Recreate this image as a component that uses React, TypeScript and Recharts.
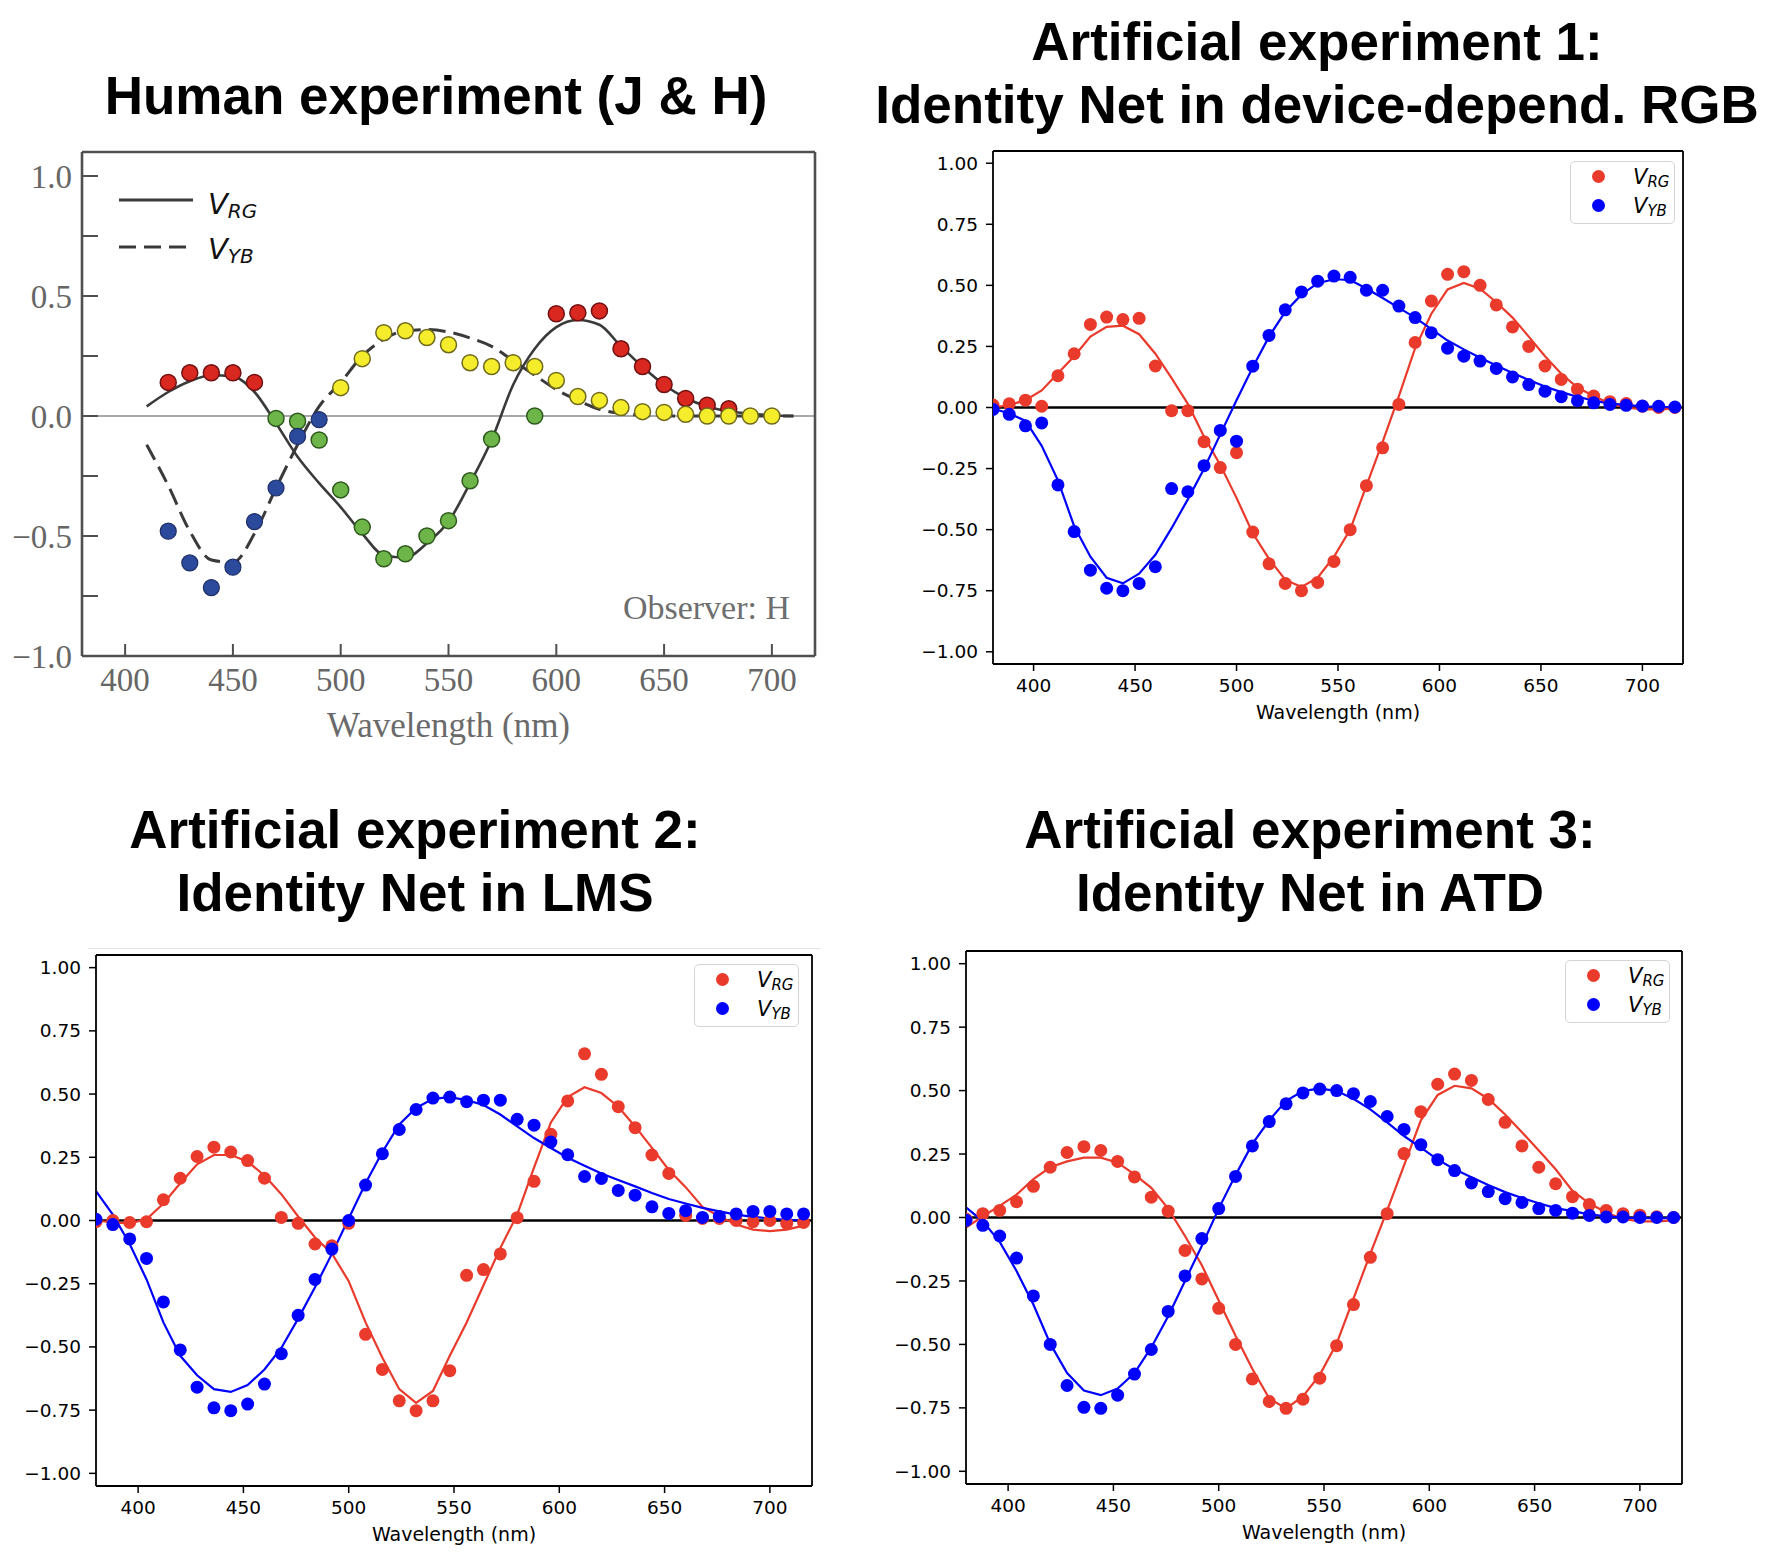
import React from 'react'
import { ComposedChart, Line, Scatter, XAxis, YAxis, ReferenceLine } from 'recharts'

// ---- human experiment (J & H), observer H ----
const hRedWl = [420, 430, 440, 450, 460, 600, 610, 620, 630, 640, 650, 660, 670, 680]
const hRedV = [0.14, 0.18, 0.18, 0.18, 0.14, 0.426, 0.43, 0.438, 0.28, 0.206, 0.131, 0.073, 0.045, 0.03]
const hYellowWl = [500, 510, 520, 530, 540, 550, 560, 570, 580, 590, 600, 610, 620, 630, 640, 650, 660, 670, 680, 690, 700]
const hYellowV = [0.118, 0.239, 0.347, 0.355, 0.327, 0.297, 0.222, 0.206, 0.222, 0.206, 0.148, 0.081, 0.065, 0.035, 0.018, 0.015, 0.007, 0.0, 0.0, 0.0, 0.0]
const hGreenWl = [470, 480, 490, 500, 510, 520, 530, 540, 550, 560, 570, 590]
const hGreenV = [-0.01, -0.022, -0.1, -0.308, -0.463, -0.595, -0.574, -0.5, -0.436, -0.27, -0.096, 0.0]
const hBlueWl = [420, 430, 440, 450, 460, 470, 480, 490]
const hBlueV = [-0.48, -0.612, -0.715, -0.63, -0.44, -0.3, -0.085, -0.015]
const hCurveWl = [410, 420, 430, 440, 450, 460, 470, 480, 490, 500, 510, 520, 530, 540, 550, 560, 570, 580, 590, 600, 610, 620, 630, 640, 650, 660, 670, 680, 690, 700, 710]
const hRgCurve = [0.04, 0.1, 0.145, 0.17, 0.165, 0.1, -0.03, -0.17, -0.28, -0.38, -0.49, -0.58, -0.59, -0.53, -0.44, -0.28, -0.1, 0.13, 0.28, 0.37, 0.4, 0.38, 0.29, 0.205, 0.13, 0.075, 0.04, 0.02, 0.01, 0.003, 0.0]
const hYbCurve = [-0.12, -0.29, -0.48, -0.6, -0.61, -0.49, -0.3, -0.12, 0.04, 0.14, 0.25, 0.32, 0.355, 0.36, 0.35, 0.325, 0.29, 0.23, 0.17, 0.11, 0.065, 0.028, 0.01, 0.003, 0.0, 0.0, 0.0, 0.0, 0.0, 0.0, 0.0]

// ---- artificial experiments: shared wavelengths ----
const WL = [380, 388, 396, 404, 412, 420, 428, 436, 444, 452, 460, 468, 476, 484, 492, 500, 508, 516, 524, 532, 540, 548, 556, 564, 572, 580, 588, 596, 604, 612, 620, 628, 636, 644, 652, 660, 668, 676, 684, 692, 700, 708, 716]

// experiment 1: device-dependent RGB
const e1RgPts = [0.01, 0.015, 0.03, 0.005, 0.13, 0.22, 0.34, 0.37, 0.36, 0.365, 0.17, -0.013, -0.013, -0.14, -0.246, -0.185, -0.51, -0.64, -0.72, -0.75, -0.716, -0.63, -0.5, -0.32, -0.165, 0.0125, 0.266, 0.436, 0.545, 0.556, 0.5, 0.42, 0.33, 0.25, 0.17, 0.115, 0.075, 0.047, 0.024, 0.016, 0.005, 0.0, 0.0]
const e1YbPts = [-0.008, -0.028, -0.075, -0.063, -0.317, -0.508, -0.666, -0.74, -0.75, -0.72, -0.652, -0.332, -0.345, -0.238, -0.094, -0.138, 0.169, 0.295, 0.4, 0.473, 0.517, 0.538, 0.533, 0.48, 0.48, 0.415, 0.368, 0.306, 0.243, 0.21, 0.19, 0.16, 0.125, 0.094, 0.067, 0.044, 0.028, 0.019, 0.0125, 0.009, 0.006, 0.005, 0.002]
const e1RgFit = [0.0, 0.01, 0.03, 0.07, 0.14, 0.21, 0.29, 0.33, 0.335, 0.3, 0.22, 0.12, 0.015, -0.12, -0.235, -0.37, -0.515, -0.62, -0.705, -0.735, -0.697, -0.611, -0.5, -0.32, -0.141, 0.047, 0.243, 0.384, 0.483, 0.51, 0.486, 0.431, 0.368, 0.29, 0.21, 0.138, 0.082, 0.047, 0.016, 0.0, -0.008, -0.008, -0.005]
const e1YbFit = [-0.005, -0.024, -0.055, -0.157, -0.298, -0.486, -0.611, -0.697, -0.72, -0.68, -0.603, -0.494, -0.376, -0.251, -0.11, 0.03, 0.165, 0.29, 0.392, 0.462, 0.509, 0.525, 0.522, 0.487, 0.448, 0.408, 0.368, 0.321, 0.274, 0.238, 0.204, 0.172, 0.141, 0.113, 0.086, 0.063, 0.044, 0.028, 0.016, 0.011, 0.005, 0.003, 0.0]

// experiment 2: LMS
const e2RgPts = [-0.005, 0.0, -0.008, -0.005, 0.082, 0.167, 0.253, 0.29, 0.271, 0.237, 0.167, 0.012, -0.011, -0.093, -0.1, -0.011, -0.45, -0.589, -0.713, -0.752, -0.713, -0.594, -0.217, -0.194, -0.132, 0.011, 0.155, 0.341, 0.473, 0.659, 0.578, 0.45, 0.367, 0.259, 0.186, 0.02, 0.008, 0.008, 0.0, -0.005, 0.0, -0.011, -0.008]
const e2YbPts = [0.005, -0.016, -0.073, -0.15, -0.322, -0.512, -0.659, -0.741, -0.752, -0.726, -0.647, -0.527, -0.375, -0.233, -0.113, 0.0, 0.14, 0.264, 0.36, 0.439, 0.484, 0.488, 0.47, 0.476, 0.476, 0.4, 0.377, 0.31, 0.26, 0.174, 0.166, 0.119, 0.1, 0.054, 0.028, 0.039, 0.012, 0.016, 0.026, 0.036, 0.036, 0.026, 0.026]
const e2RgFit = [0.0, -0.008, -0.011, 0.005, 0.067, 0.147, 0.222, 0.259, 0.259, 0.233, 0.178, 0.104, 0.016, -0.067, -0.13, -0.24, -0.403, -0.543, -0.667, -0.721, -0.674, -0.535, -0.403, -0.256, -0.109, 0.023, 0.209, 0.388, 0.488, 0.527, 0.504, 0.45, 0.372, 0.287, 0.2, 0.132, 0.054, 0.016, -0.016, -0.036, -0.042, -0.036, -0.02]
const e2YbFit = [0.116, 0.023, -0.093, -0.233, -0.403, -0.535, -0.612, -0.667, -0.678, -0.651, -0.589, -0.504, -0.388, -0.264, -0.132, 0.008, 0.147, 0.271, 0.38, 0.445, 0.481, 0.488, 0.476, 0.457, 0.419, 0.372, 0.326, 0.287, 0.248, 0.217, 0.186, 0.16, 0.135, 0.109, 0.085, 0.067, 0.05, 0.036, 0.023, 0.014, 0.008, 0.003, 0.0]

// experiment 3: ATD
const e3RgPts = [-0.006, 0.015, 0.028, 0.062, 0.123, 0.198, 0.256, 0.279, 0.264, 0.221, 0.16, 0.08, 0.025, -0.13, -0.242, -0.358, -0.5, -0.636, -0.725, -0.752, -0.716, -0.633, -0.505, -0.343, -0.157, 0.015, 0.252, 0.417, 0.525, 0.565, 0.54, 0.465, 0.375, 0.282, 0.198, 0.133, 0.082, 0.051, 0.028, 0.015, 0.009, 0.003, 0.0]
const e3YbPts = [-0.011, -0.031, -0.073, -0.16, -0.309, -0.5, -0.662, -0.748, -0.752, -0.7, -0.617, -0.52, -0.37, -0.23, -0.083, 0.035, 0.162, 0.282, 0.378, 0.448, 0.491, 0.506, 0.5, 0.488, 0.457, 0.398, 0.347, 0.287, 0.228, 0.185, 0.136, 0.102, 0.074, 0.059, 0.035, 0.028, 0.017, 0.008, 0.002, 0.002, 0.0, 0.0, 0.0]
const e3RgFit = [-0.04, 0.005, 0.046, 0.09, 0.151, 0.198, 0.221, 0.236, 0.236, 0.216, 0.17, 0.117, 0.035, -0.073, -0.188, -0.327, -0.466, -0.597, -0.713, -0.752, -0.705, -0.62, -0.497, -0.32, -0.142, 0.028, 0.205, 0.383, 0.483, 0.519, 0.509, 0.468, 0.406, 0.336, 0.264, 0.19, 0.105, 0.056, 0.02, -0.006, -0.015, -0.015, -0.011]
const e3YbFit = [0.04, -0.015, -0.096, -0.211, -0.343, -0.497, -0.613, -0.682, -0.7, -0.674, -0.613, -0.512, -0.389, -0.25, -0.111, 0.035, 0.167, 0.29, 0.383, 0.46, 0.498, 0.509, 0.498, 0.468, 0.426, 0.375, 0.321, 0.275, 0.228, 0.19, 0.159, 0.128, 0.1, 0.077, 0.056, 0.037, 0.025, 0.012, 0.005, 0.0, -0.003, -0.003, -0.003]

// ticks
const X_TICKS = [400, 450, 500, 550, 600, 650, 700]
const Y_TICKS = [-1, -0.75, -0.5, -0.25, 0, 0.25, 0.5, 0.75, 1]

const zip = (xs: number[], ys: number[]) => xs.map((wl, i) => ({ wl, v: ys[i] }))

const SERIF = '"Liberation Serif", "Times New Roman", serif'
const DEJAVU = '"DejaVu Sans", sans-serif'
const RED = '#e93a2b'
const BLUE = '#0000ff'
const PAD = { l: 80, t: 20, r: 20, b: 100 }

const minus = (s: string) => s.replace('-', '\u2212')

const dot = (r: number, fill: string, stroke = 'none', sw = 0) => (p: any) =>
  <circle cx={p.cx} cy={p.cy} r={r} fill={fill} stroke={stroke} strokeWidth={sw} />

function HumanPanel() {
  const [x0, y0, x1, y1] = [82, 152, 815, 656]
  const W = x1 - x0 + PAD.l + PAD.r
  const H = y1 - y0 + PAD.t + PAD.b
  const axis = { stroke: '#4f4f4f', strokeWidth: 2.6 }
  const tickLine = { stroke: '#4f4f4f', strokeWidth: 2 }
  return (
    <div style={{ position: 'absolute', left: x0 - PAD.l, top: y0 - PAD.t }}>
      <ComposedChart width={W} height={H} margin={{ top: PAD.t - 1, right: PAD.r - 1, bottom: PAD.b - 81, left: 0 }}>
        <XAxis type="number" dataKey="wl" domain={[380, 720]} ticks={X_TICKS} interval={0} allowDataOverflow
          height={81} axisLine={axis} tickLine={tickLine} tickSize={-12} tickMargin={24}
          tick={{ fill: '#666', fontSize: 33, fontFamily: SERIF }}
          label={{ value: 'Wavelength (nm)', position: 'insideBottom', offset: 0, fill: '#6a6a6a', fontSize: 35, fontFamily: SERIF }} />
        <XAxis xAxisId="top" orientation="top" type="number" dataKey="wl" domain={[380, 720]} ticks={X_TICKS} interval={0}
          allowDataOverflow height={1} axisLine={axis} tickLine={tickLine} tickSize={-14} tick={false} />
        <YAxis type="number" dataKey="v" domain={[-1, 1.1]} ticks={Y_TICKS} interval={0} allowDataOverflow width={80}
          axisLine={axis} tickLine={tickLine} tickSize={-16} tickMargin={26}
          tick={{ fill: '#666', fontSize: 33, fontFamily: SERIF }}
          tickFormatter={(v: number) => (Math.abs(v * 2 - Math.round(v * 2)) < 1e-6 ? minus(v.toFixed(1)) : '')} />
        <YAxis yAxisId="right" orientation="right" type="number" domain={[-1, 1.1]} ticks={Y_TICKS} interval={0}
          allowDataOverflow width={1} axisLine={axis} tickLine={tickLine} tickSize={-16} tick={false} />
        <ReferenceLine y={0} stroke="#a8a8a8" strokeWidth={2} />
        <Line data={zip(hCurveWl, hRgCurve)} dataKey="v" type="monotone" stroke="#3a3a3a" strokeWidth={2.6}
          dot={false} activeDot={false} isAnimationActive={false} />
        <Line data={zip(hCurveWl, hYbCurve)} dataKey="v" type="monotone" stroke="#3a3a3a" strokeWidth={3}
          strokeDasharray="17 8" dot={false} activeDot={false} isAnimationActive={false} />
        <Scatter data={zip(hRedWl, hRedV)} dataKey="v" shape={dot(8, '#d9281f', '#701010', 1.5)} isAnimationActive={false} />
        <Scatter data={zip(hYellowWl, hYellowV)} dataKey="v" shape={dot(8, '#f5ec2c', '#6f6a1c', 1.5)} isAnimationActive={false} />
        <Scatter data={zip(hGreenWl, hGreenV)} dataKey="v" shape={dot(8, '#6db548', '#2f5a1e', 1.5)} isAnimationActive={false} />
        <Scatter data={zip(hBlueWl, hBlueV)} dataKey="v" shape={dot(8, '#2c4a9c', '#1d2f66', 1.2)} isAnimationActive={false} />
      </ComposedChart>
    </div>
  )
}

type MplProps = {
  frame: [number, number, number, number]
  rgPts: number[]
  ybPts: number[]
  rgFit: number[]
  ybFit: number[]
}

function MplPanel({ frame, rgPts, ybPts, rgFit, ybFit }: MplProps) {
  const [x0, y0, x1, y1] = frame
  const W = x1 - x0 + PAD.l + PAD.r
  const H = y1 - y0 + PAD.t + PAD.b
  const axis = { stroke: '#000', strokeWidth: 1.8 }
  const tickLine = { stroke: '#000', strokeWidth: 1.5 }
  const tickFont = { fill: '#000', fontSize: 18.5, fontFamily: DEJAVU }
  return (
    <div style={{ position: 'absolute', left: x0 - PAD.l, top: y0 - PAD.t }}>
      <ComposedChart width={W} height={H} margin={{ top: PAD.t - 1, right: PAD.r - 1, bottom: PAD.b - 55, left: 0 }}>
        <XAxis type="number" dataKey="wl" domain={[380, 720]} ticks={X_TICKS} interval={0} allowDataOverflow
          height={55} axisLine={axis} tickLine={tickLine} tickSize={7} tickMargin={8} tick={tickFont}
          label={{ value: 'Wavelength (nm)', position: 'insideBottom', offset: 0, fill: '#000', fontSize: 19, fontFamily: DEJAVU }} />
        <XAxis xAxisId="top" orientation="top" type="number" dataKey="wl" domain={[380, 720]} ticks={X_TICKS}
          allowDataOverflow height={1} axisLine={axis} tickLine={false} tick={false} />
        <YAxis type="number" dataKey="v" domain={[-1.05, 1.05]} ticks={Y_TICKS} interval={0} allowDataOverflow width={80}
          axisLine={axis} tickLine={tickLine} tickSize={7} tickMargin={8} tick={tickFont}
          tickFormatter={(v: number) => minus(v.toFixed(2))} />
        <YAxis yAxisId="right" orientation="right" type="number" domain={[-1.05, 1.05]} ticks={Y_TICKS}
          allowDataOverflow width={1} axisLine={axis} tickLine={false} tick={false} />
        <ReferenceLine y={0} stroke="#000" strokeWidth={2.6} />
        <Scatter data={zip(WL, rgPts)} dataKey="v" shape={dot(6.5, RED)} isAnimationActive={false} />
        <Scatter data={zip(WL, ybPts)} dataKey="v" shape={dot(6.5, BLUE)} isAnimationActive={false} />
        <Line data={zip(WL, rgFit)} dataKey="v" type="linear" stroke={RED} strokeWidth={2.2}
          dot={false} activeDot={false} isAnimationActive={false} />
        <Line data={zip(WL, ybFit)} dataKey="v" type="linear" stroke={BLUE} strokeWidth={2.2}
          dot={false} activeDot={false} isAnimationActive={false} />
      </ComposedChart>
    </div>
  )
}

function Sym({ sub, size, subSize, shift }: { sub: string; size: number; subSize: number; shift: number }) {
  return (
    <span style={{ fontFamily: DEJAVU, fontStyle: 'italic', fontSize: size, whiteSpace: 'nowrap' }}>
      V<span style={{ fontSize: subSize, position: 'relative', top: shift }}>{sub}</span>
    </span>
  )
}

function MplLegend({ left, top }: { left: number; top: number }) {
  const rows = [
    { c: RED, s: 'RG', y: 16 },
    { c: BLUE, s: 'YB', y: 45 },
  ]
  return (
    <div style={{
      position: 'absolute', left, top, width: 105, height: 63, boxSizing: 'border-box',
      border: '1.5px solid #d4d4d4', borderRadius: 5, background: 'rgba(255,255,255,0.85)',
    }}>
      {rows.map((r) => (
        <React.Fragment key={r.s}>
          <div style={{ position: 'absolute', left: 21, top: r.y - 8, width: 13, height: 13, borderRadius: '50%', background: r.c }} />
          <div style={{ position: 'absolute', left: 62, top: r.y - 13, lineHeight: '24px' }}>
            <Sym sub={r.s} size={21} subSize={15} shift={3} />
          </div>
        </React.Fragment>
      ))}
    </div>
  )
}

const titleStyle: React.CSSProperties = {
  position: 'absolute', width: 1000, textAlign: 'center', whiteSpace: 'nowrap',
  fontFamily: '"Liberation Sans", Arial, sans-serif', fontWeight: 700, fontSize: 53, lineHeight: '63px', color: '#000',
}

function Title({ cx, top, lines }: { cx: number; top: number; lines: string[] }) {
  return (
    <div style={{ ...titleStyle, left: cx - 500, top }}>
      {lines.map((l) => <div key={l}>{l}</div>)}
    </div>
  )
}

export default function App() {
  return (
    <div style={{ position: 'absolute', left: 0, top: 0, width: 1776, height: 1554, overflow: 'hidden', background: '#fff' }}>
      <Title cx={436} top={64} lines={['Human experiment (J & H)']} />
      <Title cx={1317} top={10} lines={['Artificial experiment 1:', 'Identity Net in device-depend. RGB']} />
      <Title cx={415} top={798} lines={['Artificial experiment 2:', 'Identity Net in LMS']} />
      <Title cx={1310} top={798} lines={['Artificial experiment 3:', 'Identity Net in ATD']} />

      <HumanPanel />
      {/* human legend */}
      <svg style={{ position: 'absolute', left: 115, top: 185 }} width={82} height={80}>
        <line x1={4} y1={15} x2={78} y2={15} stroke="#3a3a3a" strokeWidth={3} />
        <line x1={4} y1={62} x2={78} y2={62} stroke="#3a3a3a" strokeWidth={3} strokeDasharray="17 8" />
      </svg>
      <div style={{ position: 'absolute', left: 208, top: 187, lineHeight: '34px', color: '#111' }}>
        <Sym sub="RG" size={29} subSize={20} shift={4} />
      </div>
      <div style={{ position: 'absolute', left: 208, top: 232, lineHeight: '34px', color: '#111' }}>
        <Sym sub="YB" size={29} subSize={20} shift={4} />
      </div>
      <div style={{
        position: 'absolute', left: 590, top: 588, width: 200, textAlign: 'right', lineHeight: '40px',
        fontFamily: SERIF, fontSize: 34, color: '#6e6e6e',
      }}>Observer: H</div>

      <MplPanel frame={[993, 151, 1683, 664]} rgPts={e1RgPts} ybPts={e1YbPts} rgFit={e1RgFit} ybFit={e1YbFit} />
      <MplLegend left={1570} top={161} />

      <div style={{ position: 'absolute', left: 88, top: 948, width: 732, height: 1, background: '#e4e4e4' }} />
      <MplPanel frame={[96, 955, 812, 1486]} rgPts={e2RgPts} ybPts={e2YbPts} rgFit={e2RgFit} ybFit={e2YbFit} />
      <MplLegend left={694} top={964} />

      <MplPanel frame={[966, 951, 1682, 1484]} rgPts={e3RgPts} ybPts={e3YbPts} rgFit={e3RgFit} ybFit={e3YbFit} />
      <MplLegend left={1565} top={960} />
    </div>
  )
}
